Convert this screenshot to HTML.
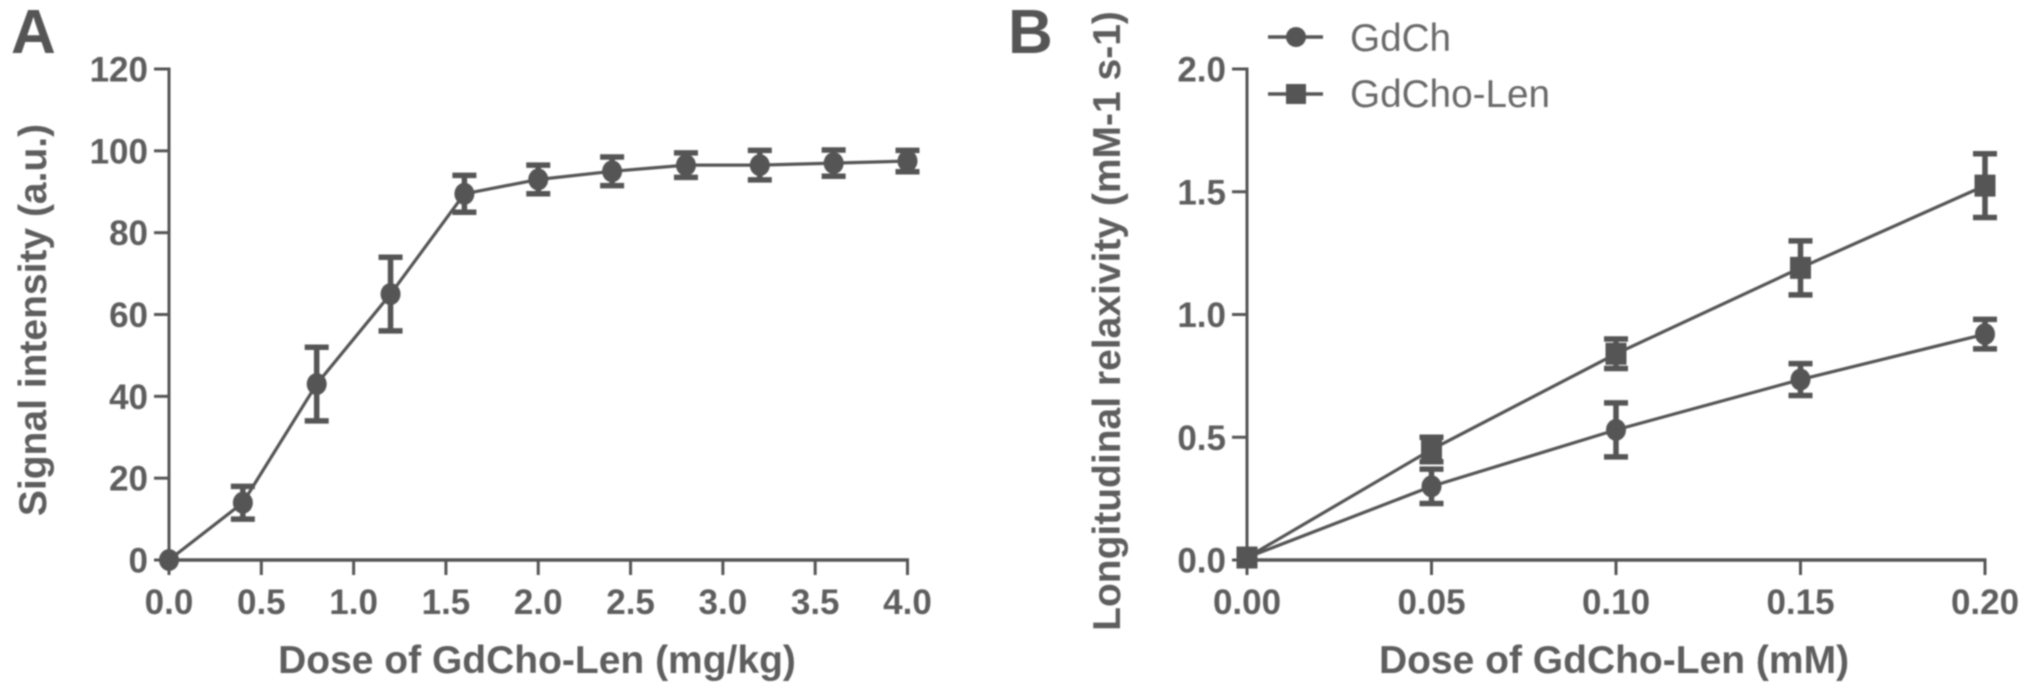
<!DOCTYPE html>
<html lang="en">
<head>
<meta charset="utf-8">
<title>Signal intensity and longitudinal relaxivity charts</title>
<style>
html,body{margin:0;padding:0;background:#fff;width:2031px;height:694px;overflow:hidden}
svg{display:block;filter:blur(0.8px)}
text{font-family:"Liberation Sans",sans-serif;fill:#5e5e5e}
.tick{font-size:35px;font-weight:bold}
.title{font-size:39px;font-weight:bold}
.legend{font-size:38.7px;fill:#6a6a6a}
.panel{font-size:62px;font-weight:bold;fill:#555}
</style>
</head>
<body>
<svg id="chart" width="2031" height="694" viewBox="0 0 2031 694" xmlns="http://www.w3.org/2000/svg">
  <text class="panel" x="11" y="53">A</text>
  <text class="panel" x="1008" y="53">B</text>
  <text class="title" x="537" y="673" text-anchor="middle">Dose of GdCho-Len (mg/kg)</text>
  <text class="title" transform="translate(46 320) rotate(-90)" text-anchor="middle">Signal intensity (a.u.)</text>
  <text class="title" x="1614" y="673" text-anchor="middle">Dose of GdCho-Len (mM)</text>
  <text class="title" transform="translate(1120 321) rotate(-90)" text-anchor="middle">Longitudinal relaxivity (mM-1 s-1)</text>
  <g>
    <g>
      <line x1="1268" y1="37" x2="1323" y2="37" stroke="#555" stroke-width="3.5"/>
      <circle cx="1296" cy="37" r="10" fill="#555"/>
      <text class="legend" x="1350" y="51">GdCh</text>
    </g>
    <g>
      <line x1="1268" y1="94" x2="1323" y2="94" stroke="#555" stroke-width="3.5"/>
      <rect x="1286" y="84" width="20" height="20" fill="#555"/>
      <text class="legend" x="1350" y="107">GdCho-Len</text>
    </g>
  </g>
</svg>
<script>
// Panel A data
const aDose = [0, 0.4, 0.8, 1.2, 1.6, 2.0, 2.4, 2.8, 3.2, 3.6, 4.0];
const aSignal = [0, 14, 43, 65, 89.5, 93, 95, 96.5, 96.5, 97, 97.5];
const aSignalError = [0, 4, 9, 9, 4.5, 3.5, 3.5, 3, 3.6, 3.2, 2.6];
const aXTicks = [0, 0.5, 1, 1.5, 2, 2.5, 3, 3.5, 4];
const aYTicks = [0, 20, 40, 60, 80, 100, 120];
// Panel B data
const bDose = [0, 0.05, 0.10, 0.15, 0.20];
const bGdCh = [0.01, 0.30, 0.53, 0.735, 0.92];
const bGdChError = [0, 0.07, 0.11, 0.065, 0.06];
const bGdChoLen = [0.01, 0.45, 0.84, 1.19, 1.525];
const bGdChoLenError = [0, 0.05, 0.06, 0.11, 0.13];
const bXTicks = [0, 0.05, 0.10, 0.15, 0.20];
const bYTicks = [0, 0.5, 1.0, 1.5, 2.0];

const svg = document.getElementById('chart');
const NS = 'http://www.w3.org/2000/svg';
const INK = '#555';

function make(tag, attrs, parent) {
  const el = document.createElementNS(NS, tag);
  for (const k in attrs) el.setAttribute(k, attrs[k]);
  parent.appendChild(el);
  return el;
}
function scale(d0, d1, r0, r1) {
  return v => r0 + (v - d0) / (d1 - d0) * (r1 - r0);
}

function drawAxes(prefix, x, y, xTicks, yTicks, xDigits, yDigits) {
  const g = make('g', {}, svg);
  
  
  const xs = xTicks.map(x), ys = yTicks.map(y);
  const yAxis = make('line', {x1: xs[0], x2: xs[0], y1: Math.min(...ys) - 1.5, y2: Math.max(...ys), stroke: INK, 'stroke-width': 3}, g);
  
  
  const xAxis = make('line', {x1: xs[0], x2: Math.max(...xs) + 1.5, y1: y(yTicks[0]), y2: y(yTicks[0]), stroke: INK, 'stroke-width': 3.5}, g);
  
  
  xTicks.forEach(t => {
    const tick = make('line', {x1: x(t), x2: x(t), y1: y(yTicks[0]), y2: y(yTicks[0]) + 15, stroke: INK, 'stroke-width': 3}, g);
    
    
    const label = make('text', {class: 'tick', x: x(t), y: 614, 'text-anchor': 'middle'}, g);
    
    
    label.textContent = t.toFixed(xDigits);
  });
  yTicks.forEach(t => {
    const tick = make('line', {x1: x(xTicks[0]) - 15, x2: x(xTicks[0]), y1: y(t), y2: y(t), stroke: INK, 'stroke-width': 3}, g);
    
    
    const label = make('text', {class: 'tick', x: x(xTicks[0]) - 21, y: y(t) + 12.5, 'text-anchor': 'end'}, g);
    
    
    label.textContent = t.toFixed(yDigits);
  });
}

function drawSeries(name, x, y, xVals, yVals, errVals, marker) {
  const g = make('g', {}, svg);
  
  
  const pts = xVals.map((v, i) => x(v) + ',' + y(yVals[i])).join(' ');
  const line = make('polyline', {points: pts, fill: 'none', stroke: INK, 'stroke-width': 3.2}, g);
  
  
  xVals.forEach((v, i) => {
    const cx = x(v), cy = y(yVals[i]), hi = y(yVals[i] + errVals[i]), lo = y(yVals[i] - errVals[i]);
    if (errVals[i] > 0) {
      const d = 'M' + cx + ' ' + hi + 'V' + lo + 'M' + (cx - 12) + ' ' + hi + 'H' + (cx + 12) + 'M' + (cx - 12) + ' ' + lo + 'H' + (cx + 12);
      const err = make('path', {d: d, fill: 'none', stroke: INK, 'stroke-width': 5.5}, g);
      
      
    }
    let mark;
    if (marker === 'square') {
      mark = make('rect', {x: cx - 10.5, y: cy - 11, width: 21, height: 22, fill: INK}, g);
    } else {
      mark = make('ellipse', {cx: cx, cy: cy, rx: 10, ry: 11, fill: INK}, g);
    }
    
    
  });
}

const ax = scale(0, 4, 169, 907.5);
const ay = scale(0, 120, 560, 69);
const bx = scale(0, 0.2, 1247, 1985);
const by = scale(0, 2, 560, 69);

drawAxes('a', ax, ay, aXTicks, aYTicks, 1, 0);
drawSeries('a-signal', ax, ay, aDose, aSignal, aSignalError, 'circle');
drawAxes('b', bx, by, bXTicks, bYTicks, 2, 1);
drawSeries('b-gdch', bx, by, bDose, bGdCh, bGdChError, 'circle');
drawSeries('b-gdcho-len', bx, by, bDose, bGdChoLen, bGdChoLenError, 'square');
</script>
</body>
</html>
